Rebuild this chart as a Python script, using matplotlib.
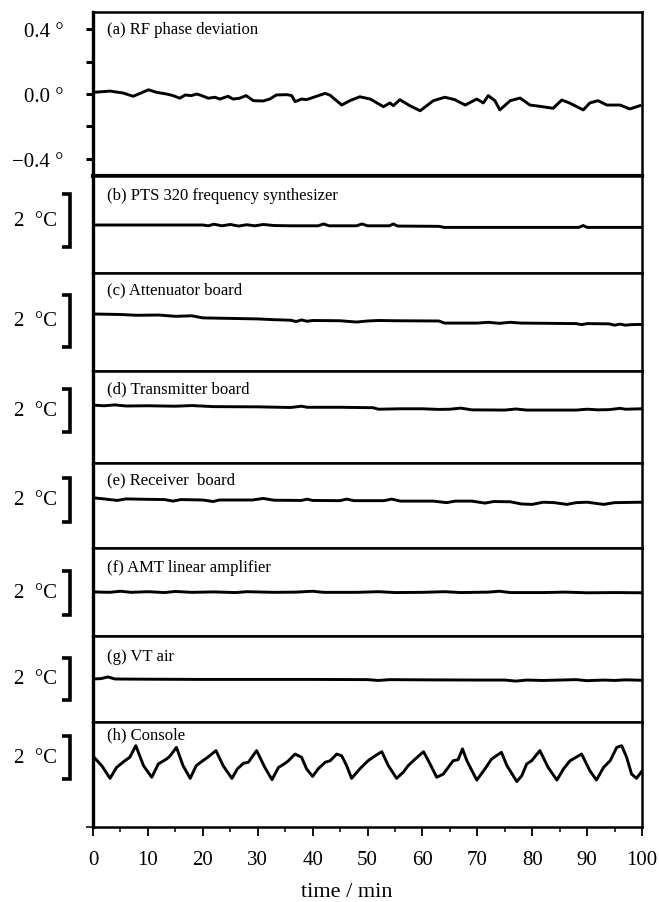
import matplotlib
matplotlib.use('Agg')
import matplotlib.pyplot as plt
import matplotlib.transforms as mtransforms

plt.rcParams['font.family'] = ['Liberation Serif', 'DejaVu Serif']

# (a) RF phase deviation, degrees
phase_t = [0.0, 3.1, 5.5, 7.3, 8.6, 10.1, 11.6, 13.4, 14.6, 15.8,
           16.8, 17.9, 18.9, 19.8, 21.0, 22.2, 23.1, 24.6, 25.5, 26.7,
           27.9, 29.2, 31.0, 32.2, 33.4, 35.3, 36.2, 36.8, 38.0, 38.9,
           40.7, 42.3, 43.2, 45.3, 46.8, 48.6, 50.5, 52.9, 54.1, 54.7,
           55.9, 57.7, 59.6, 62.0, 64.1, 65.9, 67.8, 69.9, 71.1, 72.0,
           73.2, 74.1, 76.0, 77.8, 79.6, 81.4, 83.8, 85.4, 86.9, 89.3,
           90.5, 92.0, 93.6, 96.0, 97.8, 99.6]
phase_v = [0.010, 0.018, 0.006, -0.014, 0.004, 0.026, 0.010, 0.0, -0.010, -0.026,
           -0.006, -0.010, 0.0, -0.010, -0.026, -0.020, -0.031, -0.014, -0.031, -0.026,
           -0.010, -0.041, -0.043, -0.031, -0.006, -0.004, -0.010, -0.047, -0.031, -0.035,
           -0.014, 0.004, -0.008, -0.068, -0.041, -0.017, -0.031, -0.078, -0.055, -0.072,
           -0.035, -0.072, -0.103, -0.041, -0.020, -0.035, -0.068, -0.031, -0.055, -0.010,
           -0.041, -0.098, -0.041, -0.025, -0.068, -0.076, -0.088, -0.037, -0.057, -0.098,
           -0.055, -0.041, -0.068, -0.068, -0.092, -0.072]

# (b)-(g) temperatures, degC relative to the scale bar bottom
pts_t = [0, 20, 21, 22, 23.5, 25, 26.5, 28, 29.5, 31, 33, 36, 41, 42, 43, 48, 49, 50,
         54, 54.7, 55.5, 63, 64, 88.5, 89.3, 90, 100]
pts_v = [0.83, 0.83, 0.80, 0.86, 0.80, 0.85, 0.79, 0.84, 0.80, 0.85, 0.81, 0.80, 0.80, 0.87,
         0.80, 0.80, 0.87, 0.80, 0.80, 0.87, 0.79, 0.78, 0.74, 0.74, 0.81, 0.74, 0.74]

atten_t = [0, 5, 8, 12, 15, 18, 20, 25, 30, 33, 36, 37, 38, 39, 40, 45, 48, 50, 52, 55,
           63, 64, 70, 72, 74, 76, 78, 88, 89, 90, 94, 95, 96, 97, 98, 100]
atten_v = [1.27, 1.25, 1.22, 1.23, 1.18, 1.20, 1.12, 1.10, 1.08, 1.05, 1.03, 0.98, 1.04, 0.99,
           1.02, 1.01, 0.96, 1.00, 1.02, 1.01, 1.00, 0.92, 0.92, 0.95, 0.91, 0.95, 0.92, 0.90,
           0.86, 0.90, 0.89, 0.84, 0.88, 0.84, 0.86, 0.87]

trans_t = [0, 2, 4, 6, 10, 15, 18, 22, 30, 36, 38, 39, 45, 51, 52, 56, 60, 63, 65, 67,
           69, 75, 77, 79, 88, 90, 92, 94, 96, 97, 100]
trans_v = [1.25, 1.22, 1.26, 1.21, 1.22, 1.20, 1.23, 1.18, 1.17, 1.14, 1.20, 1.15, 1.15, 1.13,
           1.06, 1.08, 1.08, 1.05, 1.06, 1.11, 1.03, 1.02, 1.07, 1.02, 1.02, 1.06, 1.03, 1.04,
           1.10, 1.06, 1.08]

recv_t = [0, 2, 4.4, 6, 10, 13, 14.6, 16, 20, 21.9, 23, 29, 31, 33, 38, 39, 40, 45, 46.2,
          47.5, 53, 54.4, 56, 62, 64.4, 66, 69, 71.4, 73, 76, 78, 80, 82, 84, 86.3, 88, 90,
          93, 95, 100]
recv_v = [1.10, 1.05, 0.98, 1.05, 1.03, 1.02, 0.95, 1.02, 1.00, 0.93, 1.00, 1.00, 1.07, 0.99,
          0.98, 1.04, 0.98, 0.97, 1.04, 0.97, 0.97, 1.04, 0.95, 0.95, 0.88, 0.95, 0.95, 0.86,
          0.93, 0.92, 0.82, 0.80, 0.90, 0.88, 0.80, 0.88, 0.90, 0.80, 0.88, 0.90]

amp_t = [0, 3, 5, 7, 10, 13, 15, 18, 22, 26, 28, 33, 37, 40, 42, 48, 52, 55, 60, 64, 67,
         72, 74, 76, 82, 86, 90, 95, 100]
amp_v = [1.05, 1.03, 1.08, 1.03, 1.06, 1.02, 1.07, 1.03, 1.05, 1.02, 1.06, 1.03, 1.04, 1.08,
         1.03, 1.03, 1.06, 1.02, 1.03, 1.06, 1.02, 1.04, 1.08, 1.02, 1.02, 1.04, 1.01, 1.02, 1.01]

vt_t = [0, 1.5, 2.7, 4, 10, 20, 30, 40, 50, 52, 54, 60, 70, 75, 77, 79, 82, 85, 88, 90,
        93, 95, 97, 100]
vt_v = [1.00, 1.02, 1.10, 1.00, 0.99, 0.98, 0.98, 0.98, 0.97, 0.93, 0.97, 0.96, 0.95, 0.95,
        0.90, 0.95, 0.93, 0.95, 0.97, 0.92, 0.95, 0.93, 0.96, 0.94]

# (h) console
cons_t = [0.0, 1.6, 3.1, 4.3, 5.8, 6.7, 7.8, 9.2, 10.7, 11.9,
          13.4, 14.0, 15.2, 16.4, 17.7, 18.8, 20.0, 20.9, 22.4, 23.7,
          25.3, 26.3, 27.4, 28.3, 29.8, 31.3, 32.6, 33.8, 35.0, 35.6,
          36.8, 38.0, 38.9, 40.0, 41.0, 42.3, 43.2,
          44.4, 45.3, 46.2, 47.1, 48.6, 50.1, 51.4, 52.6, 53.8, 55.3,
          56.5, 57.4, 58.7, 60.2, 61.4, 62.6, 63.8, 64.7, 65.6, 66.5,
          67.3, 68.1, 69.9, 71.4, 72.6, 74.4, 75.4, 77.2, 78.1, 79.0,
          79.9, 81.4, 82.9, 84.5, 85.7, 86.9, 89.0, 90.5, 91.7, 93.0,
          94.2, 95.4, 96.3, 97.2, 98.1, 99.0, 99.9]
cons_v = [1.06, 0.62, 0.03, 0.54, 0.85, 1.01, 1.55, 0.62, 0.08, 0.70,
          0.93, 1.06, 1.47, 0.62, 0.03, 0.62, 0.85, 1.01, 1.32, 0.62,
          0.03, 0.47, 0.73, 0.78, 1.32, 0.54, -0.03, 0.54, 0.73, 0.85,
          1.16, 1.01, 0.47, 0.12, 0.47, 0.78, 0.85,
          1.16, 1.08, 0.62, 0.03, 0.47, 0.85, 1.08, 1.27, 0.62, 0.03,
          0.31, 0.62, 0.93, 1.27, 0.70, 0.08, 0.23, 0.54, 0.85, 0.90,
          1.40, 0.85, -0.05, 0.47, 0.93, 1.24, 0.62, -0.12, 0.15, 0.70,
          0.85, 1.32, 0.54, -0.05, 0.47, 0.85, 1.16, 0.39, -0.05, 0.54,
          0.85, 1.47, 1.55, 1.01, 0.23, 0.03, 0.34]

labels = ['(a) RF phase deviation', '(b) PTS 320 frequency synthesizer',
          '(c) Attenuator board', '(d) Transmitter board', '(e) Receiver  board',
          '(f) AMT linear amplifier', '(g) VT air', '(h) Console']
series = [(phase_t, phase_v), (pts_t, pts_v), (atten_t, atten_v), (trans_t, trans_v),
          (recv_t, recv_v), (amp_t, amp_v), (vt_t, vt_v), (cons_t, cons_v)]
phase_ticks = [-0.4, -0.2, 0.0, 0.2, 0.4]
phase_ticklabels = ['\u22120.4 \u00b0', '', '0.0 \u00b0', '', '0.4 \u00b0']
scale_label = '2  \u00b0C'
x_ticks = list(range(0, 101, 10))

# layout in pixels of the 659x903 image
W, H = 659, 903
edges = [13, 177, 274, 372, 464, 549, 637, 723, 828]
left_px, right_px = 93, 642
brackets = [(195, 248), (296, 348), (390, 433), (479, 523),
            (572, 616), (659, 701), (737, 780)]
label_dy = [17, 19, 16, 17, 16, 19, 20, 12]

fig = plt.figure(figsize=(W / 100, H / 100), dpi=100)
axes = []
for i in range(8):
    top, bot = edges[i], edges[i + 1]
    ax = fig.add_axes([left_px / W, 1 - bot / H, (right_px - left_px) / W, (bot - top) / H])
    t, v = series[i]
    ax.plot(t, v, color='black', lw=2.1, solid_joinstyle='round')
    ax.set_xlim(0, 100)
    for s in ax.spines.values():
        s.set_linewidth(1.8)
    ax.spines['left'].set_linewidth(2.4)
    ax.tick_params(axis='both', which='both', bottom=False, labelbottom=False,
                   left=False, labelleft=False)
    ax.text(0, 1, labels[i], transform=ax.transAxes + mtransforms.ScaledTranslation(
        14 / 100, -label_dy[i] / 100, fig.dpi_scale_trans),
        ha='left', va='center', fontsize=12)

    if i == 0:
        ax.set_ylim(-0.505, 0.505)
        ax.spines['bottom'].set_linewidth(3.0)
        ax.set_yticks(phase_ticks)
        ax.set_yticklabels(phase_ticklabels)
        ax.tick_params(axis='y', left=True, labelleft=True, direction='out',
                       length=5, width=2.2, pad=16, labelsize=15)
    else:
        bt, bb = brackets[i - 1]
        scale = (bb - bt) / 2.0
        ax.set_ylim(-(bot - bb) / scale, (bb - top) / scale)
        tr = mtransforms.blended_transform_factory(fig.transFigure, ax.transData)
        ax.plot([62 / W, 70 / W, 70 / W, 62 / W], [2, 2, 0, 0], transform=tr,
                color='black', lw=2.6, clip_on=False, solid_joinstyle='miter',
                solid_capstyle='butt')
        ax.text(57 / W, 1.0, scale_label, transform=tr, ha='right', va='center',
                fontsize=15)
    axes.append(ax)

ax = axes[-1]
ax.set_xticks(x_ticks)
ax.set_xticks(range(5, 100, 10), minor=True)
ax.tick_params(axis='x', which='both', bottom=True, labelbottom=True, direction='out')
ax.tick_params(axis='x', which='major', length=6.5, width=1.3, pad=10, labelsize=15)
ax.tick_params(axis='x', which='minor', length=3.6, width=1.1)
ax.set_yticks([ax.get_ylim()[0]])
ax.tick_params(axis='y', left=True, labelleft=False, direction='out', length=5, width=1.1)
fig.text(347 / W, 1 - 893 / H, 'time / min', ha='center', va='center', fontsize=16)

fig.savefig('out.png', dpi=100)
